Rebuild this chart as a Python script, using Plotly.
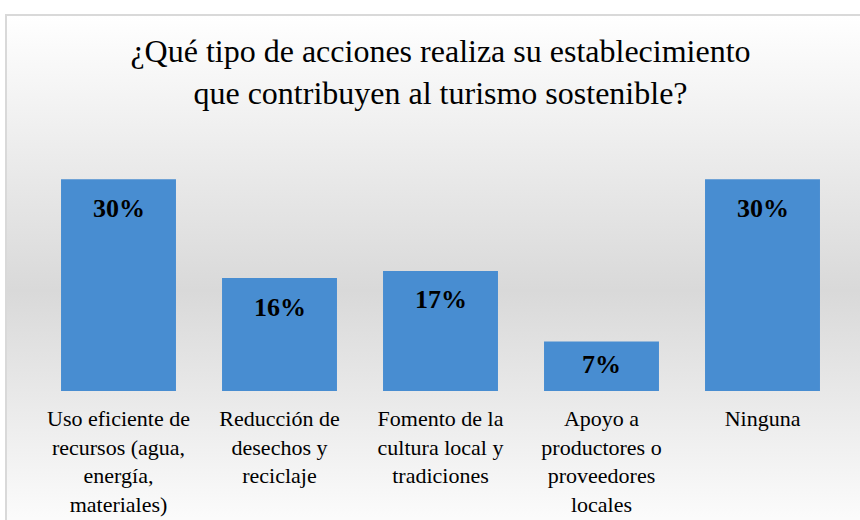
import urllib.parse
import plotly.graph_objects as go

categories = [
    "Uso eficiente de<br>recursos (agua,<br>energía,<br>materiales)",
    "Reducción de<br>desechos y<br>reciclaje",
    "Fomento de la<br>cultura local y<br>tradiciones",
    "Apoyo a<br>productores o<br>proveedores<br>locales",
    "Ninguna",
]
values = [30, 16, 17, 7, 30]
value_labels = ["30%", "16%", "17%", "7%", "30%"]
title_text = "¿Qué tipo de acciones realiza su establecimiento<br>que contribuyen al turismo sostenible?"

W, H = 860, 520
ML, MR, MT, MB = 38, 17, 170, 129
plot_w = W - ML - MR
plot_h = H - MT - MB
y_max = 31.3
px_per_unit = plot_h / y_max

FONT = "Liberation Serif"

# background gradient + border as an svg image covering the page
svg = (
    "<svg xmlns='http://www.w3.org/2000/svg' width='860' height='520' viewBox='0 0 860 520'>"
    "<defs><linearGradient id='g' x1='0' y1='0' x2='0' y2='1'>"
    "<stop offset='0' stop-color='#ffffff'/>"
    "<stop offset='0.52' stop-color='#d9d9d9'/>"
    "<stop offset='1' stop-color='#ffffff'/>"
    "</linearGradient></defs>"
    "<rect x='0' y='0' width='860' height='520' fill='#ffffff'/>"
    "<rect x='6' y='15' width='880' height='530' fill='url(#g)' stroke='#d9d9d9' stroke-width='2'/>"
    "</svg>"
)
svg_uri = "data:image/svg+xml;charset=utf-8," + urllib.parse.quote(svg)

fig = go.Figure()
fig.add_trace(go.Bar(
    x=categories,
    y=values,
    marker=dict(color="#488dd1", line=dict(width=0)),
    hoverinfo="skip",
))

annotations = []
for c, v, t in zip(categories, values, value_labels):
    shift = -min(29, 0.47 * v * px_per_unit)
    annotations.append(dict(
        x=c, y=v, xref="x", yref="y", text=f"<b>{t}</b>", showarrow=False,
        yanchor="middle", yshift=shift,
        font=dict(family=FONT, size=26, color="#000000"),
    ))

fig.update_layout(
    width=W, height=H,
    margin=dict(l=ML, r=MR, t=MT, b=MB, pad=0, autoexpand=False),
    paper_bgcolor="rgba(0,0,0,0)",
    plot_bgcolor="rgba(0,0,0,0)",
    bargap=0.286,
    showlegend=False,
    title=dict(
        text=title_text, x=0.5, xanchor="center", xref="paper",
        y=1 - 62 / H, yanchor="top", yref="container",
        font=dict(family=FONT, size=32, color="#000000"),
    ),
    xaxis=dict(
        showgrid=False, zeroline=False, showline=False, ticks="",
        tickfont=dict(family=FONT, size=22, color="#000000"),
        ticklabelstandoff=12, automargin=False,
    ),
    yaxis=dict(
        range=[0, y_max], visible=False, showgrid=False, zeroline=False,
    ),
    annotations=annotations,
    images=[dict(
        source=svg_uri, xref="paper", yref="paper",
        x=(0 - ML) / plot_w, y=(H - MB - 0) / plot_h,
        sizex=W / plot_w, sizey=H / plot_h,
        xanchor="left", yanchor="top", sizing="stretch", layer="below",
    )],
)

fig.write_html("out.html", config={"displayModeBar": False},
               post_script="document.body.style.margin='0';")
